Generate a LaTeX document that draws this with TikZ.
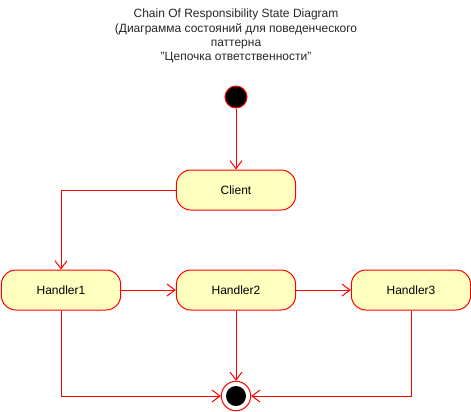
\documentclass[tikz,border=0pt]{standalone}
\usepackage{fontspec}
\setmainfont{Liberation Sans}
\usetikzlibrary{arrows.meta}
\definecolor{stroke}{HTML}{FF0000}
\definecolor{statefill}{HTML}{FFFFC0}
\tikzset{
  state/.style={draw=stroke, fill=statefill, rounded corners=11pt, minimum width=89.5pt, minimum height=30pt, inner sep=0pt, font=\fontsize{9}{10}\selectfont, line width=0.75pt},
  flow/.style={draw=stroke, line width=0.75pt, -{Straight Barb[length=6pt,width=9pt,line width=0.75pt]}},
}
\begin{document}
\begin{tikzpicture}[x=0.75pt,y=-0.75pt]
\useasboundingbox (0,0) rectangle (471,411);
\node[align=center, font=\fontsize{9}{10.6}\selectfont, text=black!85] (title) at (236,36)
  {Chain Of Responsibility State Diagram\\(Диаграмма состояний для поведенческого\\паттерна\\"Цепочка ответственности"};
\node[circle, draw=stroke, fill=black, minimum size=16.5pt, inner sep=0pt, line width=0.75pt] (init) at (236,97) {};
\node[state] (client) at (236,190) {Client};
\node[state] (h1) at (61,290) {Handler1};
\node[state] (h2) at (236,290) {Handler2};
\node[state] (h3) at (411,290) {Handler3};
\node[circle, draw=stroke, fill=white, minimum size=22pt, inner sep=0pt, line width=0.75pt] (final) at (236,396) {};
\node[circle, fill=black, minimum size=15pt, inner sep=0pt] (finalin) at (final) {};
\draw[flow] (init) -- (client);
\draw[flow] (client.west) -| (h1.north);
\draw[flow] (h1) -- (h2);
\draw[flow] (h2) -- (h3);
\draw[flow] (h2) -- (final);
\draw[flow] (h1.south) |- (final.west);
\draw[flow] (h3.south) |- (final.east);
\end{tikzpicture}
\end{document}
